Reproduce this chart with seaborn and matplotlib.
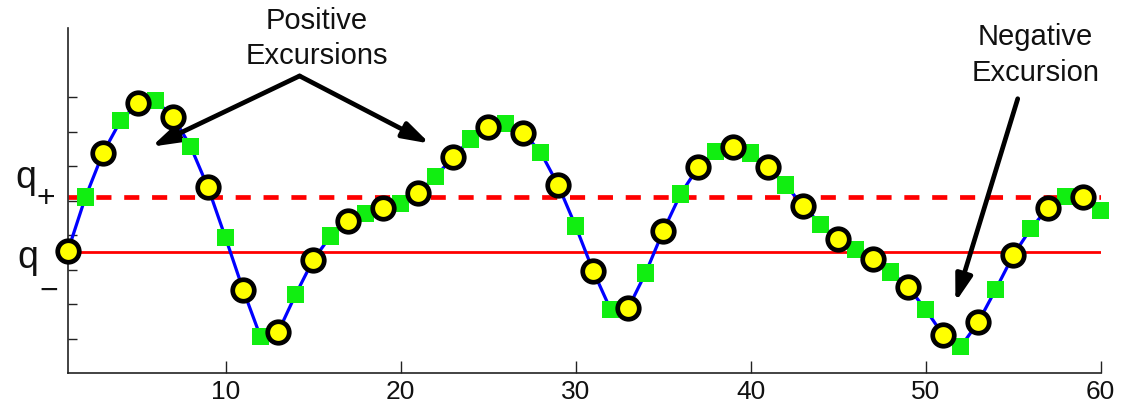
import matplotlib
matplotlib.use("Agg")
import matplotlib.pyplot as plt
import matplotlib.transforms as mtransforms
import pandas as pd
import seaborn as sns

# Sampled signal, one value per sample index
samples = list(range(1, 61))
signal = [3.55, 5.10, 6.38, 7.31, 7.82, 7.89, 7.43, 6.57, 5.38, 3.92,
          2.42, 1.05, 1.18, 2.27, 3.27, 3.97, 4.40, 4.63, 4.78, 4.92,
          5.22, 5.70, 6.25, 6.78, 7.12, 7.23, 6.97, 6.40, 5.45, 4.26,
          2.96, 1.84, 1.87, 2.90, 4.11, 5.19, 5.96, 6.42, 6.54, 6.38,
          5.96, 5.45, 4.84, 4.31, 3.87, 3.58, 3.29, 2.93, 2.49, 1.84,
          1.10, 0.76, 1.47, 2.42, 3.41, 4.18, 4.79, 5.12, 5.10, 4.71]

# Threshold levels
q_plus = 5.10
q_minus = 3.51

x_ticks = [10, 20, 30, 40, 50, 60]
x_tick_labels = ["10", "20", "30", "40", "50", "60"]
y_ticks = [1, 2, 3, 4, 5, 6, 7, 8]

sns.set_theme(style="ticks")
plt.rcParams["font.family"] = ["Liberation Sans", "DejaVu Sans"]

df = pd.DataFrame({"sample": samples, "value": signal})
df["kind"] = ["odd" if s % 2 else "even" for s in samples]

fig = plt.figure(figsize=(11.21, 4.12), dpi=100)
ax = fig.add_axes([68 / 1121, 39 / 412, 1032.7 / 1121, 345 / 412])

# threshold lines
ax.axhline(q_minus, color="#ff0000", lw=2.0, zorder=1)
ax.axhline(q_plus, color="#ff0000", lw=3.4, dashes=(3.2, 2.7), zorder=1)

# signal trace
sns.lineplot(data=df, x="sample", y="value", color="#0000ff", lw=2.3,
             zorder=3, ax=ax)

# even samples: green squares, odd samples: yellow circles
sns.scatterplot(data=df[df["kind"] == "even"], x="sample", y="value",
                marker="s", s=12.5 ** 2, color="#11ee11", edgecolor="none",
                linewidth=0, zorder=4, clip_on=False, ax=ax)
sns.scatterplot(data=df[df["kind"] == "odd"], x="sample", y="value",
                marker="o", s=15.5 ** 2, color="#ffff00", edgecolor="black",
                linewidth=3.4, zorder=5, clip_on=False, ax=ax)

ax.set_xlim(1, 60)
ax.set_ylim(0, 10)
ax.set_xticks(x_ticks)
ax.set_xticklabels(x_tick_labels)
ax.set_yticks(y_ticks)
ax.set_xlabel("")
ax.set_ylabel("")
ax.tick_params(axis="x", direction="in", length=8.4, width=1.0,
               labelsize=19, pad=5, colors="#222222", labelcolor="#111111")
ax.tick_params(axis="y", direction="in", length=6.5, width=1.0,
               labelleft=False, colors="#222222")
sns.despine(ax=ax, top=True, right=True)
for side in ("left", "bottom"):
    ax.spines[side].set_linewidth(1.2)
    ax.spines[side].set_color("#222222")

# threshold labels left of the axis
lab = mtransforms.blended_transform_factory(ax.transAxes, ax.transData)
ax.text(-0.0513, q_plus + 0.25, "q", transform=lab, fontsize=27,
        ha="left", va="baseline", color="#111111")
ax.text(-0.0213, q_plus - 0.07, "+", transform=lab, fontsize=23,
        ha="center", va="center", color="#111111")
ax.text(-0.0495, q_minus - 0.48, "q", transform=lab, fontsize=27,
        ha="left", va="baseline", color="#111111")
ax.text(-0.0184, q_minus - 1.17, "\u2212", transform=lab, fontsize=23,
        ha="center", va="center", color="#111111")

# annotations
arrow = dict(arrowstyle="-|>,head_length=0.8,head_width=0.25", lw=3.4,
             color="black", mutation_scale=20, shrinkA=0, shrinkB=0)
ax.annotate("", xy=(5.77, 6.56), xytext=(14.23, 8.61),
            arrowprops=arrow, annotation_clip=False)
ax.annotate("", xy=(21.67, 6.65), xytext=(14.23, 8.61),
            arrowprops=arrow, annotation_clip=False)
ax.text(15.2, 9.70, "Positive\nExcursions", ha="center", va="center",
        fontsize=21, linespacing=1.33, color="#111111", clip_on=False)

ax.annotate("", xy=(51.7, 2.05), xytext=(55.26, 7.95),
            arrowprops=arrow, annotation_clip=False)
ax.text(56.28, 9.22, "Negative\nExcursion", ha="center", va="center",
        fontsize=21, linespacing=1.33, color="#111111", clip_on=False)

fig.savefig("out.png", dpi=100)
